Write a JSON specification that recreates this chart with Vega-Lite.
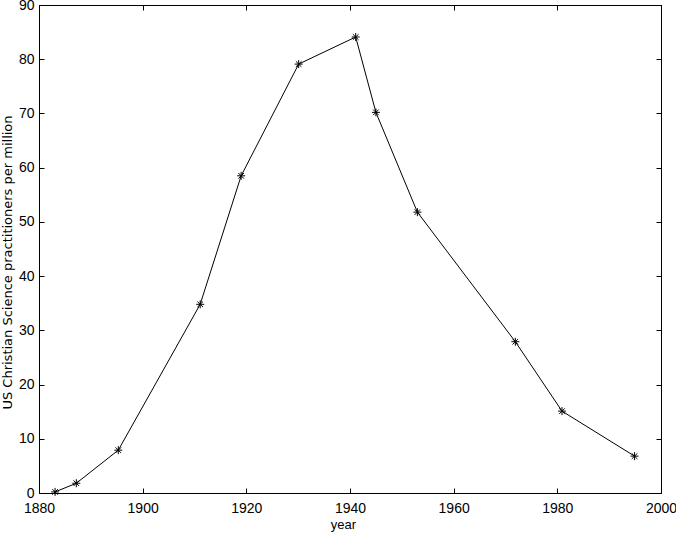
{
  "$schema": "https://vega.github.io/schema/vega-lite/v6.json",
  "autosize": "none",
  "width": 622,
  "height": 488,
  "padding": {"left": 39, "top": 5, "right": 15, "bottom": 42},
  "background": "white",
  "config": {
    "view": {"stroke": "black", "strokeWidth": 1},
    "axis": {
      "domainColor": "black",
      "tickColor": "black",
      "labelColor": "black",
      "titleColor": "black",
      "labelFont": "Liberation Sans",
      "titleFont": "Liberation Sans",
      "labelFontSize": 14,
      "titleFontSize": 12,
      "titleFontWeight": "normal",
      "grid": false,
      "tickSize": -5,
      "labelFlush": false,
      "labelOverlap": false
    }
  },
  "data": {
    "values": [
      {"year": 1883.1, "value": 0.2},
      {"year": 1887.2, "value": 1.8},
      {"year": 1895.3, "value": 7.9},
      {"year": 1911.1, "value": 34.8},
      {"year": 1919.0, "value": 58.5},
      {"year": 1930.1, "value": 79.1},
      {"year": 1941.1, "value": 84.1},
      {"year": 1945.0, "value": 70.2},
      {"year": 1953.0, "value": 51.8},
      {"year": 1971.9, "value": 27.9},
      {"year": 1980.9, "value": 15.1},
      {"year": 1994.9, "value": 6.8}
    ]
  },
  "layer": [
    {
      "encoding": {
        "x": {"field": "year", "type": "quantitative", "scale": {"domain": [1880, 2000], "nice": false, "zero": false},
              "axis": {"title": "year", "values": [1880, 1900, 1920, 1940, 1960, 1980, 2000], "format": "d", "labelPadding": 13,
                       "titleX": 304, "titleY": 35, "titleBaseline": "alphabetic", "titleAlign": "center", "titleFontSize": 13}},
        "y": {"field": "value", "type": "quantitative", "scale": {"domain": [0, 90], "nice": false},
              "axis": {"title": "US Christian Science practitioners per million", "values": [0,10,20,30,40,50,60,70,80,90], "labelPadding": 10,
                       "titleFont": "DejaVu Sans", "titleFontSize": 13, "titleAngle": 270, "titleX": -28, "titleY": 257, "titleBaseline": "alphabetic", "titleAlign": "center"}}
      },
      "layer": [
        {"mark": {"type": "line", "color": "black", "strokeWidth": 1}},
        {"mark": {"type": "point", "shape": "M-1,0L1,0M0,-1L0,1M-0.7,-0.7L0.7,0.7M-0.7,0.7L0.7,-0.7", "filled": false, "color": "black", "strokeWidth": 1, "size": 64, "opacity": 1}}
      ]
    },
    {
      "mark": {"type": "point", "opacity": 0},
      "encoding": {
        "x": {"field": "year", "type": "quantitative", "scale": {"domain": [1880, 2000], "nice": false, "zero": false},
              "axis": {"orient": "top", "title": null, "labels": false, "values": [1880, 1900, 1920, 1940, 1960, 1980, 2000]}},
        "y": {"field": "value", "type": "quantitative", "scale": {"domain": [0, 90], "nice": false},
              "axis": {"orient": "right", "title": null, "labels": false, "values": [0,10,20,30,40,50,60,70,80,90]}}
      }
    }
  ],
  "resolve": {"scale": {"x": "independent", "y": "independent"}, "axis": {"x": "independent", "y": "independent"}}
}
